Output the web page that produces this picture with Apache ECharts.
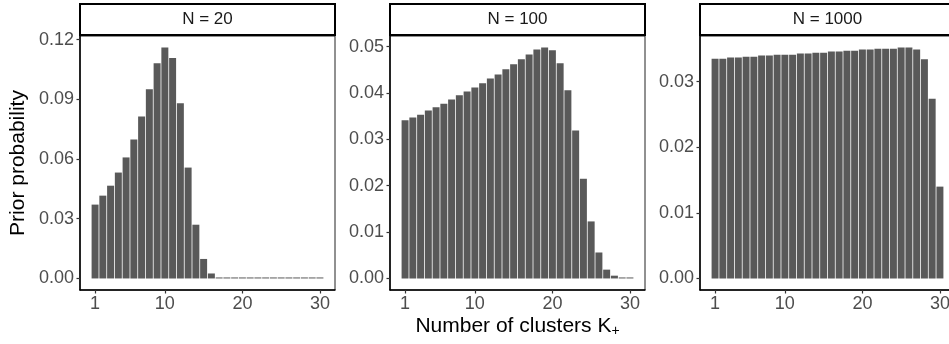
<!DOCTYPE html>
<html>
<head>
<meta charset="utf-8">
<script src="https://cdn.jsdelivr.net/npm/echarts@6/dist/echarts.min.js"></script>
<style>
  html, body { margin: 0; padding: 0; background: #fff; overflow: hidden; }
  #chart { width: 966px; height: 344px; }
</style>
</head>
<body>
<div id="chart"></div>
<script>
// number of clusters K+ (1..30)
const clusters = Array.from({ length: 30 }, (_, i) => i + 1);

const panelTitles = ["N = 20", "N = 100", "N = 1000"];

const probN20 = [
  0.0371, 0.0416, 0.0466, 0.0532, 0.0608, 0.0698, 0.0814, 0.095, 0.1081, 0.116,
  0.1107, 0.088, 0.0557, 0.027, 0.0098, 0.0025, 0.0005, 0.0003, 0.0002, 0.0001,
  0.0001, 0.0001, 0.0001, 0.0001, 0.0001, 0.0001, 0.0001, 0.0001, 0.0001, 0.0001,
];
const probN100 = [
  0.0341, 0.0347, 0.0353, 0.0362, 0.0369, 0.0377, 0.0386, 0.0395, 0.0403, 0.0412,
  0.0421, 0.0431, 0.044, 0.0451, 0.0462, 0.0473, 0.0483, 0.0494, 0.0498, 0.0492,
  0.0464, 0.0406, 0.0319, 0.0215, 0.0123, 0.0056, 0.0019, 0.0006, 0.0002, 0.0001,
];
const probN1000 = [
  0.0335, 0.0335, 0.0337, 0.0337, 0.0338, 0.0338, 0.034, 0.034, 0.0341, 0.0341,
  0.0341, 0.0343, 0.0343, 0.0344, 0.0344, 0.0346, 0.0346, 0.0347, 0.0347, 0.0349,
  0.0349, 0.035, 0.035, 0.035, 0.0352, 0.0352, 0.0349, 0.0334, 0.0274, 0.014,
];

const xTicks = [1, 10, 20, 30];
const yTicks = [
  [0, 0.03, 0.06, 0.09, 0.12],
  [0, 0.01, 0.02, 0.03, 0.04, 0.05],
  [0, 0.01, 0.02, 0.03],
];
const allProbs = [probN20, probN100, probN1000];

const FONT = "'Liberation Sans', Arial, sans-serif";
const BAR_COLOR = "#595959";

// panel layout
const panelLefts = [80, 390, 700];
const panelWidth = 255;
const panelTop = 36;
const panelHeight = 254;
const stripTop = 4;
const stripHeight = 31;

// ggplot-like expansion of continuous scales (5%)
const barHalf = 0.45;
const xSpan = clusters[clusters.length - 1] + barHalf - (clusters[0] - barHalf);
const xMin = clusters[0] - barHalf - 0.05 * xSpan;
const xMax = clusters[clusters.length - 1] + barHalf + 0.05 * xSpan;

const chart = echarts.init(document.getElementById("chart"));

const grids = panelLefts.map((left) => ({
  left: left,
  top: panelTop,
  width: panelWidth,
  height: panelHeight,
  show: true,
  borderColor: "#222222",
  borderWidth: 1,
  backgroundColor: "#fff",
}));

const xAxes = panelLefts.map((_, i) => ({
  type: "value",
  gridIndex: i,
  min: xMin,
  max: xMax,
  splitLine: { show: false },
  axisLine: { show: true, onZero: false, lineStyle: { color: "#000", width: 1.5 } },
  axisTick: {
    show: true,
    length: 3.5,
    customValues: xTicks,
    lineStyle: { color: "#333", width: 1.2 },
  },
  axisLabel: {
    customValues: xTicks,
    color: "#4d4d4d",
    fontFamily: FONT,
    fontSize: 18,
    margin: 5,
  },
}));

const yAxes = allProbs.map((probs, i) => {
  const top = Math.max(...probs);
  return {
    type: "value",
    gridIndex: i,
    min: -0.05 * top,
    max: 1.05 * top,
    splitLine: { show: false },
    axisLine: { show: true, onZero: false, lineStyle: { color: "#000", width: 1.5 } },
    axisTick: {
      show: true,
      length: 3.5,
      customValues: yTicks[i],
      lineStyle: { color: "#333", width: 1.2 },
    },
    axisLabel: {
      customValues: yTicks[i],
      formatter: (v) => v.toFixed(2),
      color: "#4d4d4d",
      fontFamily: FONT,
      fontSize: 18,
      margin: 6,
    },
  };
});

const series = allProbs.map((probs, i) => ({
  type: "bar",
  xAxisIndex: i,
  yAxisIndex: i,
  data: clusters.map((k, j) => [k, probs[j]]),
  barWidth: "90%",
  barMinHeight: 1,
  itemStyle: { color: BAR_COLOR },
  silent: true,
  animation: false,
}));

const graphics = [];
panelLefts.forEach((left, i) => {
  graphics.push({
    type: "rect",
    shape: { x: left, y: stripTop, width: panelWidth, height: stripHeight },
    style: { fill: "#fff", stroke: "#000", lineWidth: 2 },
    z: 10,
  });
  graphics.push({
    type: "text",
    x: left + panelWidth / 2,
    y: stripTop + stripHeight / 2,
    style: {
      text: panelTitles[i],
      fill: "#1a1a1a",
      font: "17px " + FONT,
      align: "center",
      verticalAlign: "middle",
    },
    z: 11,
  });
});
graphics.push({
  type: "text",
  x: 18,
  y: panelTop + panelHeight / 2,
  rotation: Math.PI / 2,
  style: {
    text: "Prior probability",
    fill: "#000",
    font: "21px " + FONT,
    align: "center",
    verticalAlign: "middle",
  },
});
graphics.push({
  type: "text",
  x: (panelLefts[0] + panelLefts[2] + panelWidth) / 2,
  y: 326,
  style: {
    rich: {
      m: { fill: "#000", font: "21px " + FONT },
      s: { fill: "#000", font: "14px " + FONT, padding: [10, 0, 0, 0] },
    },
    text: "{m|Number of clusters K}{s|+}",
    align: "center",
    verticalAlign: "middle",
  },
});

chart.setOption({
  animation: false,
  grid: grids,
  xAxis: xAxes,
  yAxis: yAxes,
  series: series,
  graphic: graphics,
});
</script>
</body>
</html>
